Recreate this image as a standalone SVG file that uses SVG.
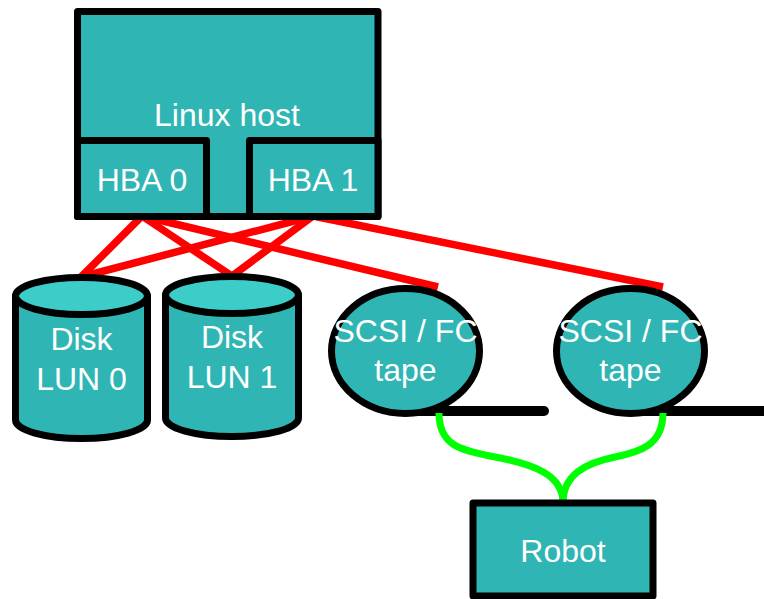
<svg xmlns="http://www.w3.org/2000/svg" width="764" height="599" viewBox="0 0 764 599">
  <style>
    .box { fill: #2fb5b3; stroke: #000; stroke-width: 7; stroke-linejoin: round; }
    .cap { fill: #3dcdc9; stroke: #000; stroke-width: 7; }
    .lbl { font-family: "Liberation Sans", Arial, sans-serif; font-size: 32px; fill: #fff; text-anchor: middle; }
    .fc { stroke: #ff0000; stroke-width: 7.5; fill: none; stroke-linecap: butt; }
    .ctl { stroke: #00ff00; stroke-width: 7; fill: none; }
    .bus { stroke: #000; stroke-width: 10; stroke-linecap: round; }
  </style>

  <g id="connectors">
    <!-- fibre links from the HBAs -->
    <line class="fc" x1="142" y1="216" x2="81" y2="277"/>
    <line class="fc" x1="142" y1="216" x2="232" y2="276"/>
    <line class="fc" x1="313" y1="216" x2="81" y2="277"/>
    <line class="fc" x1="313" y1="216" x2="232" y2="276"/>
    <line class="fc" x1="142" y1="216" x2="438" y2="287"/>
    <line class="fc" x1="313" y1="216" x2="663" y2="287"/>
    <!-- tape buses -->
    <line class="bus" x1="410" y1="411" x2="544" y2="411"/>
    <line class="bus" x1="635" y1="411" x2="770" y2="411"/>
    <!-- robot control links -->
    <path class="ctl" d="M439,413 C439,445 460,450 490,456 C535,464 563,475 563,503"/>
    <path class="ctl" d="M663,413 C663,445 640,452 615,457 C585,463 563,475 563,503"/>
  </g>

  <g id="linux-host">
    <rect class="box" x="77.5" y="11.5" width="300.5" height="205"/>
    <text class="lbl" x="227" y="126">Linux host</text>
  </g>
  <g id="hba0">
    <rect class="box" x="77.5" y="140.5" width="129" height="76"/>
    <text class="lbl" x="142" y="191">HBA 0</text>
  </g>
  <g id="hba1">
    <rect class="box" x="249.5" y="140.5" width="128.5" height="76"/>
    <text class="lbl" x="313" y="191">HBA 1</text>
  </g>

  <g id="disk-lun0">
    <path class="box" d="M15.5,296 V420 A66,18.5 0 0 0 147.5,420 V296 Z"/>
    <ellipse class="cap" cx="81.5" cy="296" rx="66" ry="18.5"/>
    <text class="lbl" x="81.5" y="350">Disk</text>
    <text class="lbl" x="81.5" y="390">LUN 0</text>
  </g>
  <g id="disk-lun1">
    <path class="box" d="M165.5,295 V418 A66.5,18.5 0 0 0 298.5,418 V295 Z"/>
    <ellipse class="cap" cx="232" cy="295" rx="66.5" ry="18.5"/>
    <text class="lbl" x="232" y="348">Disk</text>
    <text class="lbl" x="232" y="388">LUN 1</text>
  </g>

  <g id="tape0">
    <ellipse class="box" cx="405.5" cy="351" rx="74" ry="62.5"/>
    <text class="lbl" x="405.5" y="342">SCSI / FC</text>
    <text class="lbl" x="405.5" y="381">tape</text>
  </g>
  <g id="tape1">
    <ellipse class="box" cx="630.5" cy="351" rx="74" ry="62.5"/>
    <text class="lbl" x="630.5" y="342">SCSI / FC</text>
    <text class="lbl" x="630.5" y="381">tape</text>
  </g>

  <g id="robot">
    <rect class="box" x="473" y="503" width="180" height="93"/>
    <text class="lbl" x="563" y="562">Robot</text>
  </g>
</svg>
